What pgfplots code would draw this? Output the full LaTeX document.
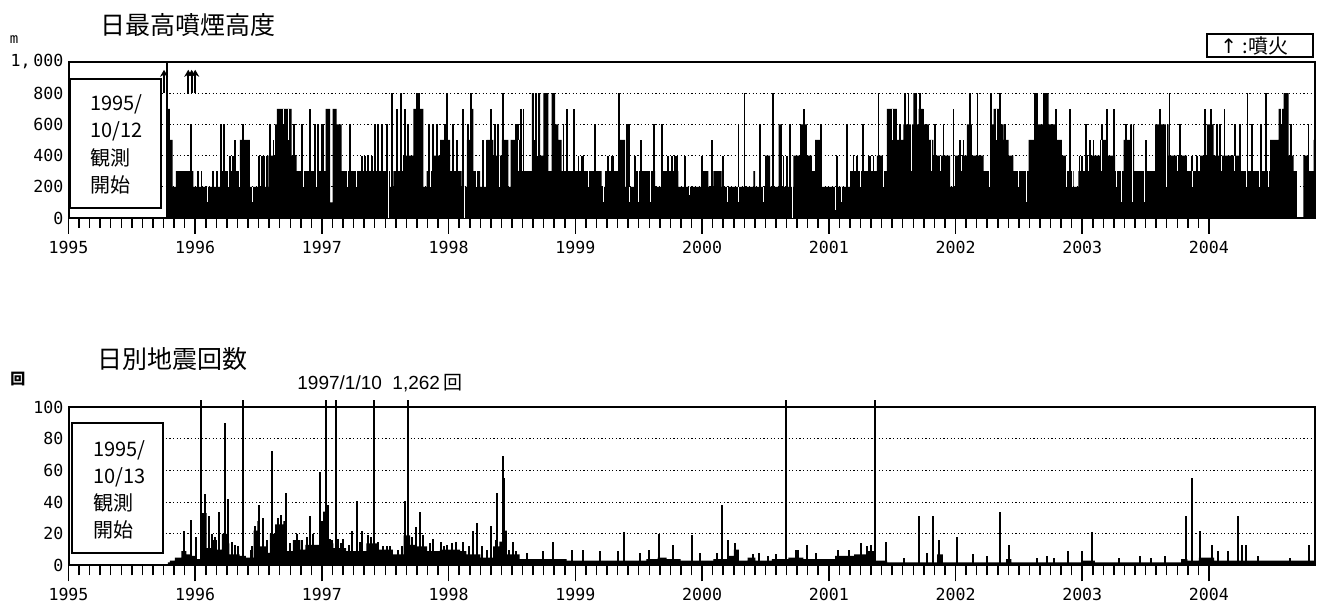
\documentclass[border=0pt]{standalone}
\usepackage{fontspec}
\usepackage{pgfplots}
\pgfplotsset{compat=1.18}
\usepackage{pgfplotstable}
\usetikzlibrary{arrows.meta}
\setmainfont{Liberation Sans}
\newfontfamily\cjk{Noto Sans CJK JP}
\newfontfamily\mono{DejaVu Sans Mono}
\newfontfamily\dejavu{DejaVu Sans}

% daily max plume height (m): step level, x = decimal year
\pgfplotstableread{
x y
1995.778 700
1995.800 500
1995.822 200
1995.848 300
1995.985 200
1996.196 300
1996.353 500
1996.432 200
1996.577 400
1996.630 600
1996.645 700
1996.761 400
1996.800 300
1997.030 700
1997.064 100
1997.085 700
1997.116 600
1997.156 300
1997.537 200
1997.564 300
1997.640 400
1997.721 700
1997.800 200
1997.827 300
1997.880 400
1997.932 500
1998.011 300
1998.103 200
1998.143 500
1998.169 700
1998.195 300
1998.248 200
1998.300 500
1998.353 400
1998.419 500
1998.471 200
1998.490 500
1998.577 300
1998.656 800
1998.721 400
1998.748 800
1998.787 300
1998.813 800
1998.840 600
1998.865 500
1998.892 300
1999.208 200
1999.234 300
1999.340 500
1999.392 200
1999.471 300
1999.629 200
1999.682 300
1999.813 200
1999.997 300
2000.050 200
2000.090 300
2000.155 200
2000.405 300
2000.418 200
2000.497 400
2000.537 200
2000.603 600
2000.629 200
2000.721 400
2000.774 600
2000.826 400
2000.866 300
2000.892 500
2000.945 200
2001.168 300
2001.379 400
2001.431 300
2001.458 700
2001.537 500
2001.589 600
2001.668 800
2001.695 600
2001.708 700
2001.747 600
2001.790 500
2001.826 400
2001.958 200
2001.997 400
2002.089 600
2002.129 400
2002.221 300
2002.273 600
2002.300 700
2002.350 600
2002.379 500
2002.420 400
2002.457 300
2002.576 500
2002.642 600
2002.694 800
2002.734 600
2002.800 500
2002.839 400
2002.878 300
2002.931 200
2002.970 300
2003.030 400
2003.142 500
2003.194 400
2003.260 300
2003.326 500
2003.378 600
2003.410 300
2003.576 600
2003.681 400
2003.826 300
2003.931 400
2003.984 600
2004.036 400
2004.247 300
2004.483 500
2004.549 700
2004.589 800
2004.628 400
2004.668 300
2004.694 0
2004.746 400
2004.786 300
2004.825 500
2004.837 500
}\plumebase

% single days above the running level
\pgfplotstableread{
x y
1995.776 1000
1995.967 600
1996.025 300
1996.050 300
1996.143 300
1996.170 300
1996.204 600
1996.230 600
1996.275 400
1996.296 400
1996.317 500
1996.374 600
1996.505 400
1996.524 400
1996.545 400
1996.564 400
1996.590 600
1996.617 500
1996.782 600
1996.840 600
1996.906 700
1996.945 600
1996.972 600
1996.998 600
1997.011 600
1997.222 600
1997.314 400
1997.340 400
1997.366 400
1997.393 400
1997.419 600
1997.445 600
1997.472 600
1997.511 600
1997.556 800
1997.590 700
1997.621 800
1997.656 700
1997.682 600
1997.748 800
1997.769 800
1997.848 600
1997.879 600
1997.906 600
1997.972 600
1997.990 800
1998.037 600
1998.064 500
1998.116 700
1998.150 600
1998.177 800
1998.187 700
1998.274 500
1998.300 500
1998.335 700
1998.366 600
1998.387 600
1998.432 800
1998.532 600
1998.550 600
1998.569 700
1998.590 700
1998.906 600
1998.937 700
1998.992 700
1999.024 400
1999.050 400
1999.064 400
1999.155 600
1999.260 400
1999.287 400
1999.300 400
1999.347 800
1999.405 600
1999.424 600
1999.471 400
1999.518 500
1999.621 600
1999.682 600
1999.734 400
1999.760 400
1999.787 400
1999.800 400
1999.866 400
1999.997 400
2000.076 500
2000.103 300
2000.129 300
2000.168 400
2000.287 600
2000.334 800
2000.458 600
2000.558 800
2000.642 400
2000.668 400
2000.695 600
2000.805 700
2000.937 600
2001.063 400
2001.142 600
2001.195 400
2001.221 400
2001.268 600
2001.313 400
2001.326 400
2001.353 400
2001.392 800
2001.563 600
2001.602 800
2001.629 800
2001.721 800
2001.742 700
2001.840 600
2001.905 600
2001.984 700
2002.037 500
2002.063 500
2002.115 800
2002.173 800
2002.279 800
2002.352 800
2002.392 600
2002.629 800
2002.642 800
2002.695 800
2002.721 800
2002.794 700
2002.905 700
2002.978 400
2002.997 400
2003.031 600
2003.063 500
2003.089 500
2003.155 600
2003.194 700
2003.252 700
2003.345 600
2003.505 500
2003.615 700
2003.689 800
2003.773 600
2003.865 400
2003.905 400
2003.970 700
2004.015 700
2004.062 600
2004.089 600
2004.123 700
2004.207 600
2004.247 600
2004.304 800
2004.339 600
2004.410 600
2004.452 800
2004.510 500
2004.562 700
2004.650 600
2004.786 600
}\plumespike

% single days below the running level: level, value
\pgfplotstableread{
x base low
1996.100 200 100
1996.260 300 200
1996.348 300 200
1996.450 200 100
1996.700 700 600
1996.735 700 500
1996.855 300 200
1996.960 300 200
1997.200 300 200
1997.270 300 200
1997.524 300 0
1997.860 300 200
1998.128 200 0
1998.222 300 200
1998.400 400 200
1998.550 500 300
1998.680 800 500
1998.700 800 400
1999.100 300 200
1999.221 300 100
1999.430 200 100
1999.500 300 100
1999.590 300 100
1999.900 200 150
2000.200 200 100
2000.287 200 100
2000.484 200 100
2000.716 400 0
2001.050 200 50
2001.100 200 100
2001.250 300 200
2001.428 400 200
2001.500 700 500
2001.655 600 300
2001.813 500 300
2001.880 400 300
2002.050 400 300
2002.266 300 200
2002.320 700 500
2002.500 300 200
2002.557 300 100
2002.873 400 200
2002.920 300 200
2003.050 400 300
2003.150 500 300
2003.268 300 200
2003.313 300 100
2003.400 600 100
2003.494 300 100
2003.668 600 200
2003.750 400 300
2003.870 300 200
2004.100 400 300
2004.200 400 300
2004.300 300 200
2004.400 300 200
2004.470 300 200
2004.575 800 600
}\plumegap

% daily earthquake count: step level
\pgfplotstableread{
x y
1995.785 2
1995.800 3
1995.840 5
1995.890 9
1995.930 7
1995.970 6
1996.010 4
1996.048 33
1996.090 11
1996.140 16
1996.170 10
1996.210 20
1996.250 14
1996.270 7
1996.350 6
1996.400 5
1996.460 22
1996.490 28
1996.510 12
1996.560 8
1996.590 20
1996.630 26
1996.695 28
1996.720 9
1996.770 16
1996.830 10
1996.870 13
1996.985 28
1997.010 34
1997.050 14
1997.090 11
1997.190 9
1997.350 14
1997.450 10
1997.560 7
1997.645 19
1997.695 13
1997.750 12
1997.830 9
1997.930 10
1998.090 9
1998.140 7
1998.250 5
1998.350 12
1998.400 15
1998.430 22
1998.460 7
1998.560 4
1998.930 3
1999.560 4
1999.650 5
1999.720 4
1999.830 3
2000.090 4
2000.200 6
2000.250 10
2000.290 3
2000.360 5
2000.420 3
2000.550 4
2000.680 5
2000.800 4
2001.050 6
2001.200 7
2001.300 9
2001.370 3
2001.460 2
2001.855 7
2001.900 2
2002.400 4
2002.440 2
2003.000 3
2003.100 2
2003.780 4
2003.830 3
2003.920 5
2004.040 3
2004.837 3
}\quakebase

% single days (values over 100 cut at the frame)
\pgfplotstableread{
x y
1995.911 22
1995.967 29
1996.010 18
1996.046 104.4
1996.077 45
1996.111 31
1996.130 20
1996.160 18
1996.190 34
1996.235 90
1996.257 42
1996.290 15
1996.314 13
1996.340 12
1996.380 104.4
1996.440 10
1996.450 12
1996.475 25
1996.506 38
1996.538 30
1996.570 16
1996.604 72
1996.655 30
1996.680 32
1996.716 46
1996.750 14
1996.800 20
1996.840 16
1996.880 18
1996.906 31
1996.930 20
1996.985 59
1997.029 104.4
1997.045 38
1997.063 17
1997.080 16
1997.108 104.4
1997.130 17
1997.150 14
1997.170 17
1997.210 13
1997.235 22
1997.274 41
1997.300 15
1997.314 22
1997.366 19
1997.390 18
1997.411 104.4
1997.440 15
1997.480 12
1997.510 12
1997.537 12
1997.600 10
1997.630 12
1997.655 41
1997.682 104.4
1997.710 18
1997.742 24
1997.774 34
1997.800 19
1997.850 14
1997.874 17
1997.937 15
1997.960 12
1997.990 13
1998.030 14
1998.060 15
1998.110 15
1998.160 12
1998.190 22
1998.221 27
1998.260 12
1998.300 10
1998.332 25
1998.370 16
1998.384 46
1998.429 69
1998.440 55
1998.480 10
1998.505 15
1998.530 9
1998.616 8
1998.747 9
1998.827 15
1998.971 10
1999.063 10
1999.195 9
1999.340 9
1999.384 21
1999.510 8
1999.583 10
1999.663 20
1999.773 13
1999.923 19
1999.985 8
2000.120 8
2000.157 38
2000.204 16
2000.260 14
2000.400 7
2000.450 8
2000.520 6
2000.580 7
2000.666 104.4
2000.740 10
2000.755 10
2000.827 13
2000.896 8
2001.070 10
2001.163 10
2001.257 14
2001.305 12
2001.330 13
2001.361 104.4
2001.455 15
2001.590 5
2001.710 31
2001.776 8
2001.820 31
2001.870 16
2002.012 18
2002.138 7
2002.250 6
2002.350 34
2002.420 13
2002.640 5
2002.720 6
2002.780 5
2002.884 9
2002.997 9
2003.076 21
2003.290 5
2003.455 6
2003.540 5
2003.650 6
2003.817 31
2003.868 55
2003.930 22
2004.025 13
2004.070 9
2004.150 9
2004.230 31
2004.260 13
2004.290 13
2004.390 6
2004.640 5
2004.786 13
}\quakespike

\pgfplotsset{
  panel/.style={
    anchor=south west, scale only axis, width=623.25pt,
    xmin=1995, xmax=2004.837, ymin=0,
    xtick={1995,1996,1997,1998,1999,2000,2001,2002,2003,2004},
    xticklabels={1995,1996,1997,1998,1999,2000,2001,2002,2003,2004},
    minor x tick num=11,
    xtick align=outside, ytick align=inside,
    xtick pos=left, ytick pos=left,
    major tick length=8pt, minor tick length=5pt,
    every tick/.style={black, line width=0.75pt},
    ytick style={draw=none},
    axis line style={line width=1pt},
    ymajorgrids,
    grid style={black, line width=0.5pt, dash pattern=on 0.6pt off 1.2pt},
    tick label style={font=\mono\fontsize{8.3}{9}\selectfont},
    yticklabel style={xshift=1pt},
  },
}

\begin{document}
\begin{tikzpicture}
\path[use as bounding box] (0,0) rectangle (663pt,301.5pt);

\begin{axis}[panel, at={(34.25pt,192.5pt)}, height=78pt, ymax=1000,
  ytick={0,200,400,600,800,1000},
  yticklabels={0,200,400,600,800,{1,\,000}}]
\addplot[const plot, fill=black, draw=none] table {\plumebase} \closedcycle;
\addplot[ycomb, black, line width=0.9pt] table {\plumespike};
\addplot[ycomb, white, line width=0.5pt] table[y=base] {\plumegap};
\addplot[ycomb, black, line width=0.6pt] table[y=low] {\plumegap};
\addplot[black, line width=1pt, -{Stealth[length=3.5pt,width=4pt]},
  quiver={u=0, v=150}] coordinates {(1995.754,800) (1995.945,800) (1995.972,800) (1996.000,800)};
\end{axis}

\begin{axis}[panel, at={(34.25pt,18.75pt)}, height=79.25pt, ymax=100, clip=false,
  ytick={0,20,40,60,80,100},
  yticklabels={0,20,40,60,80,100}]
\addplot[const plot, fill=black, draw=none] table {\quakebase} \closedcycle;
\addplot[ycomb, black, line width=1pt] table {\quakespike};
\end{axis}

% titles and notes
\node[anchor=west, font=\cjk\fontsize{12.5}{14}\selectfont, inner sep=0] at (50pt,289pt) {日最高噴煙高度};
\node[anchor=west, font=\cjk\fontsize{12.5}{14}\selectfont, inner sep=0] at (48.5pt,122pt) {日別地震回数};
\node[font=\mono\fontsize{7}{8}\selectfont, inner sep=0] at (7pt,281.5pt) {m};
\node[font=\cjk\bfseries\fontsize{7.5}{8}\selectfont, inner sep=0] at (9pt,112pt) {回};
\draw[line width=0.75pt] (603.5pt,273pt) rectangle (656.5pt,284.5pt);
\node[anchor=west, inner sep=0, font=\fontsize{10}{11}\selectfont] at (610pt,278.75pt)
  {{\dejavu ↑}\ {\cjk :噴火}};
\node[anchor=west, inner sep=0, font=\fontsize{9.5}{11}\selectfont] at (148.5pt,110pt)
  {1997/1/10\ \ 1,262\,{\cjk 回}};

% observation start boxes
\draw[fill=white, line width=0.75pt] (35pt,197.5pt) rectangle (80.5pt,262pt);
\begin{scope}[every node/.style={anchor=west, inner sep=0, font=\cjk\fontsize{10}{12}\selectfont}]
\node at (45pt,249.5pt) {1995/};
\node at (45pt,236pt) {10/12};
\node at (45pt,222.5pt) {観測};
\node at (45pt,209pt) {開始};
\end{scope}
\draw[fill=white, line width=0.75pt] (36pt,25pt) rectangle (81.5pt,90pt);
\begin{scope}[every node/.style={anchor=west, inner sep=0, font=\cjk\fontsize{10}{12}\selectfont}]
\node at (46.5pt,76.5pt) {1995/};
\node at (46.5pt,63pt) {10/13};
\node at (46.5pt,50pt) {観測};
\node at (46.5pt,36.5pt) {開始};
\end{scope}
\end{tikzpicture}
\end{document}
